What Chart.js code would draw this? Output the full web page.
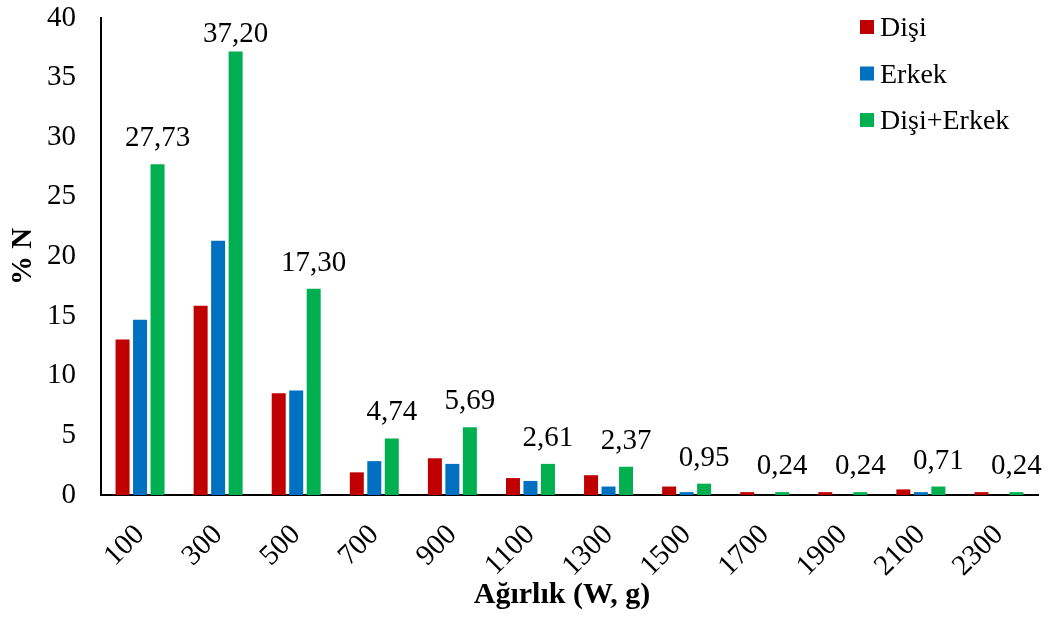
<!DOCTYPE html>
<html>
<head>
<meta charset="utf-8">
<script src="https://cdn.jsdelivr.net/npm/chart.js@4"></script>
<style>
  html, body { margin: 0; padding: 0; background: #ffffff; }
  #wrap { width: 1052px; height: 619px; }
</style>
</head>
<body>
<div id="wrap"><canvas id="c" width="1052" height="619"></canvas></div>
<script>
// Weight classes (g) and percentage share of individuals (% N)
const weightClasses = ['100', '300', '500', '700', '900', '1100', '1300', '1500', '1700', '1900', '2100', '2300'];
const female = [13.03, 15.88, 8.53, 1.90, 3.08, 1.42, 1.66, 0.71, 0.24, 0.24, 0.47, 0.24];
const male = [14.69, 21.33, 8.77, 2.84, 2.61, 1.18, 0.71, 0.24, 0, 0, 0.24, 0];
const combined = [27.73, 37.20, 17.30, 4.74, 5.69, 2.61, 2.37, 0.95, 0.24, 0.24, 0.71, 0.24];
const combinedLabels = ['27,73', '37,20', '17,30', '4,74', '5,69', '2,61', '2,37', '0,95', '0,24', '0,24', '0,71', '0,24'];
const yTicks = [0, 5, 10, 15, 20, 25, 30, 35, 40];
const xTitle = 'Ağırlık (W, g)';
const yTitle = '% N';

const SERIF = '"Liberation Serif", "Times New Roman", serif';

// Value labels above the combined series
const valueLabels = {
  id: 'valueLabels',
  afterDatasetsDraw(chart) {
    const ctx = chart.ctx;
    const meta = chart.getDatasetMeta(2);
    ctx.save();
    ctx.font = '29px ' + SERIF;
    ctx.fillStyle = '#000';
    ctx.textAlign = 'center';
    ctx.textBaseline = 'alphabetic';
    meta.data.forEach((bar, i) => {
      let y = bar.y - 18;
      y = Math.max(y, chart.chartArea.top + 24);
      ctx.fillText(combinedLabels[i], bar.x, y);
    });
    ctx.restore();
  }
};

// Legend placed inside the plot, upper right, and the horizontal axis title
const insideLegend = {
  id: 'insideLegend',
  afterDraw(chart) {
    const ctx = chart.ctx;
    ctx.save();
    ctx.font = '28px ' + SERIF;
    ctx.textBaseline = 'alphabetic';
    ctx.textAlign = 'left';
    chart.data.datasets.forEach((ds, i) => {
      const top = 20 + i * 46.5;
      ctx.fillStyle = ds.backgroundColor;
      ctx.fillRect(860, top, 14, 14);
      ctx.fillStyle = '#000';
      ctx.fillText(ds.label, 880, top + 16);
    });
    ctx.font = 'bold 30px ' + SERIF;
    ctx.textAlign = 'center';
    ctx.fillText(xTitle, 562, 603);
    ctx.restore();
  }
};

new Chart(document.getElementById('c'), {
  type: 'bar',
  data: {
    labels: weightClasses,
    datasets: [
      { label: 'Dişi', data: female, backgroundColor: '#C00000' },
      { label: 'Erkek', data: male, backgroundColor: '#0070C0' },
      { label: 'Dişi+Erkek', data: combined, backgroundColor: '#00B050' }
    ]
  },
  options: {
    responsive: false,
    animation: false,
    devicePixelRatio: 1,
    layout: { padding: { left: 0, right: 14, top: 18, bottom: 0 } },
    datasets: {
      bar: { categoryPercentage: 0.672, barPercentage: 0.8 }
    },
    plugins: {
      legend: { display: false },
      tooltip: { enabled: false }
    },
    scales: {
      x: {
        grid: { display: false, drawTicks: false },
        border: { display: true, color: '#000', width: 2 },
        ticks: {
          color: '#000',
          font: { family: SERIF, size: 29 },
          maxRotation: 45,
          minRotation: 45,
          padding: 23,
          autoSkip: false
        },
        title: { display: false },
        afterFit(scale) { scale.height = 124; }
      },
      y: {
        min: 0,
        max: 40,
        afterBuildTicks(scale) { scale.ticks = yTicks.map(v => ({ value: v })); },
        grid: { display: false, drawTicks: false },
        border: { display: true, color: '#000', width: 2 },
        ticks: {
          color: '#000',
          font: { family: SERIF, size: 29 },
          padding: 25
        },
        title: {
          display: true,
          text: yTitle,
          color: '#000',
          font: { family: SERIF, size: 29, weight: 'bold' },
          padding: { top: 6, bottom: 0 }
        },
        afterFit(scale) {
          scale.width = 101;
          scale.paddingTop = 0;
          scale.paddingBottom = 0;
        }
      }
    }
  },
  plugins: [valueLabels, insideLegend]
});
</script>
</body>
</html>
